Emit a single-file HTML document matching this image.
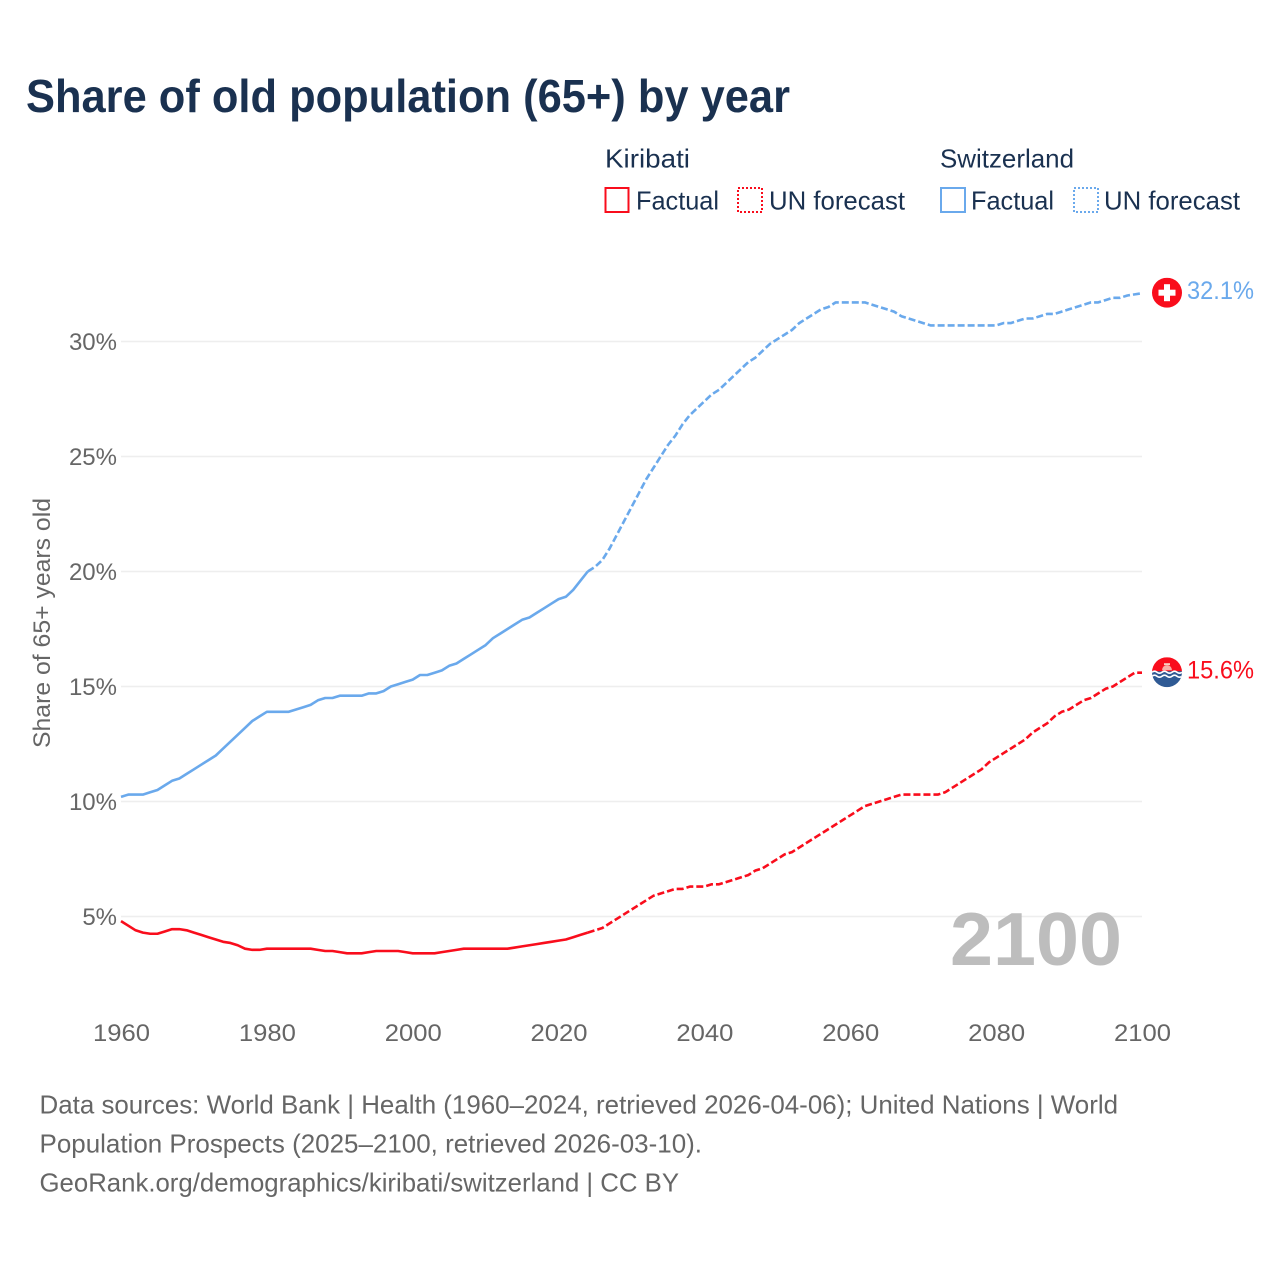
<!DOCTYPE html>
<html lang="en">
<head>
<meta charset="utf-8">
<title>Share of old population (65+) by year</title>
<style>
html,body{margin:0;padding:0;background:#fff;}
svg{display:block;font-family:"Liberation Sans",sans-serif;}
</style>
</head>
<body>
<svg id="chart" xmlns="http://www.w3.org/2000/svg" width="1280" height="1280" viewBox="0 0 1280 1280">
  <defs>
    <clipPath id="flag-ch-clip"><circle cx="0" cy="0" r="15"/></clipPath>
    <clipPath id="flag-ki-clip"><circle cx="0" cy="0" r="15"/></clipPath>
  </defs>
  <rect width="1280" height="1280" fill="#fff"/>
  <text x="26" y="112" font-size="46" font-weight="700" fill="#1a3150" textLength="764" lengthAdjust="spacingAndGlyphs">Share of old population (65+) by year</text>

  <g font-size="26" fill="#1a3150">
    <text x="605" y="167.5" textLength="85" lengthAdjust="spacingAndGlyphs">Kiribati</text>
    <text x="940" y="167.5" textLength="134" lengthAdjust="spacingAndGlyphs">Switzerland</text>
    <rect x="605.5" y="188" width="23" height="24" fill="none" stroke="#f90d1c" stroke-width="2"/>
    <text x="636" y="209.5" textLength="83" lengthAdjust="spacingAndGlyphs">Factual</text>
    <rect x="738" y="188" width="24" height="24" fill="none" stroke="#f90d1c" stroke-width="2" stroke-dasharray="2 2"/>
    <text x="769" y="209.5" textLength="136" lengthAdjust="spacingAndGlyphs">UN forecast</text>
    <rect x="941" y="188" width="24" height="24" fill="none" stroke="#6aa9ec" stroke-width="2"/>
    <text x="971" y="209.5" textLength="83" lengthAdjust="spacingAndGlyphs">Factual</text>
    <rect x="1074" y="188" width="24" height="24" fill="none" stroke="#6aa9ec" stroke-width="2" stroke-dasharray="2 2"/>
    <text x="1104" y="209.5" textLength="136" lengthAdjust="spacingAndGlyphs">UN forecast</text>
  </g>

  <g id="grid"></g>
  <g id="y-ticks" font-size="24" fill="#666"></g>
  <g id="x-ticks" font-size="24" fill="#666"></g>
  <text transform="translate(50,748) rotate(-90)" font-size="24" fill="#666" textLength="250" lengthAdjust="spacingAndGlyphs">Share of 65+ years old</text>
  <text x="950" y="965" font-size="75" font-weight="700" fill="#bdbdbd" textLength="172" lengthAdjust="spacingAndGlyphs">2100</text>
  <g id="series"></g>

  <g id="flag-ch">
    <g clip-path="url(#flag-ch-clip)">
      <rect x="-15" y="-15" width="30" height="30" fill="#f90d1c"/>
      <rect x="-8.5" y="-3" width="17" height="6" fill="#fff"/>
      <rect x="-3" y="-8.5" width="6" height="17" fill="#fff"/>
    </g>
  </g>
  <g id="flag-ki">
    <g clip-path="url(#flag-ki-clip)">
      <rect x="-15" y="-15" width="30" height="15" fill="#f90d1c"/>
      <rect x="-15" y="-1" width="30" height="16" fill="#2f5a94"/>
      <path d="M-5 -2 A5 5 0 0 1 5 -2 Z" fill="#f9b0a8"/>
      <rect x="-3" y="-9" width="6" height="2" fill="#f9d0c0"/>
      <path d="M-15 0 q2.5 -2 5 0 t5 0 t5 0 t5 0 t5 0 t5 0" fill="none" stroke="#fff" stroke-width="1.6"/>
      <path d="M-15 4 q2.5 -2 5 0 t5 0 t5 0 t5 0 t5 0 t5 0" fill="none" stroke="#fff" stroke-width="1.6"/>
    </g>
  </g>
  <text id="label-ch" x="1187" y="299" font-size="25" fill="#6aa9ec" textLength="67" lengthAdjust="spacingAndGlyphs"></text>
  <text id="label-ki" x="1187" y="679" font-size="25" fill="#f90d1c" textLength="67" lengthAdjust="spacingAndGlyphs"></text>

  <g font-size="26" fill="#666">
    <text x="39.5" y="1113.5" textLength="1078.5" lengthAdjust="spacingAndGlyphs">Data sources: World Bank | Health (1960–2024, retrieved 2026-04-06); United Nations | World</text>
    <text x="39.5" y="1152.5" textLength="662.5" lengthAdjust="spacingAndGlyphs">Population Prospects (2025–2100, retrieved 2026-03-10).</text>
    <text x="39.5" y="1191.5" textLength="639.5" lengthAdjust="spacingAndGlyphs">GeoRank.org/demographics/kiribati/switzerland | CC BY</text>
  </g>
</svg>
<script>
const startYear = 1960;
const endYear = 2100;
const lastFactualYear = 2024;
const xTickYears = [1960, 1980, 2000, 2020, 2040, 2060, 2080, 2100];
const yTickValues = [5, 10, 15, 20, 25, 30];
const switzerlandValues = [
  10.2,10.3,10.3,10.3,10.4,10.5,10.7,10.9,11.0,11.2,
  11.4,11.6,11.8,12.0,12.3,12.6,12.9,13.2,13.5,13.7,
  13.9,13.9,13.9,13.9,14.0,14.1,14.2,14.4,14.5,14.5,
  14.6,14.6,14.6,14.6,14.7,14.7,14.8,15.0,15.1,15.2,
  15.3,15.5,15.5,15.6,15.7,15.9,16.0,16.2,16.4,16.6,
  16.8,17.1,17.3,17.5,17.7,17.9,18.0,18.2,18.4,18.6,
  18.8,18.9,19.2,19.6,20.0,20.2,20.5,21.0,21.6,22.2,
  22.8,23.4,24.0,24.5,25.0,25.5,25.9,26.4,26.8,27.1,
  27.4,27.7,27.9,28.2,28.5,28.8,29.1,29.3,29.6,29.9,
  30.1,30.3,30.5,30.8,31.0,31.2,31.4,31.5,31.7,31.7,
  31.7,31.7,31.7,31.6,31.5,31.4,31.3,31.1,31.0,30.9,
  30.8,30.7,30.7,30.7,30.7,30.7,30.7,30.7,30.7,30.7,
  30.7,30.8,30.8,30.9,31.0,31.0,31.1,31.2,31.2,31.3,
  31.4,31.5,31.6,31.7,31.7,31.8,31.9,31.9,32.0,32.05,
  32.1
];
const kiribatiValues = [
  4.8,4.6,4.4,4.3,4.25,4.25,4.35,4.45,4.45,4.4,
  4.3,4.2,4.1,4.0,3.9,3.85,3.75,3.6,3.55,3.55,
  3.6,3.6,3.6,3.6,3.6,3.6,3.6,3.55,3.5,3.5,
  3.45,3.4,3.4,3.4,3.45,3.5,3.5,3.5,3.5,3.45,
  3.4,3.4,3.4,3.4,3.45,3.5,3.55,3.6,3.6,3.6,
  3.6,3.6,3.6,3.6,3.65,3.7,3.75,3.8,3.85,3.9,
  3.95,4.0,4.1,4.2,4.3,4.4,4.5,4.7,4.9,5.1,
  5.3,5.5,5.7,5.9,6.0,6.1,6.2,6.2,6.3,6.3,
  6.3,6.4,6.4,6.5,6.6,6.7,6.8,7.0,7.1,7.3,
  7.5,7.7,7.8,8.0,8.2,8.4,8.6,8.8,9.0,9.2,
  9.4,9.6,9.8,9.9,10.0,10.1,10.2,10.3,10.3,10.3,
  10.3,10.3,10.3,10.4,10.6,10.8,11.0,11.2,11.4,11.7,
  11.9,12.1,12.3,12.5,12.7,13.0,13.2,13.4,13.7,13.9,
  14.0,14.2,14.4,14.5,14.7,14.9,15.0,15.2,15.4,15.6,
  15.6
];

const SVG_NS = 'http://www.w3.org/2000/svg';
const plotLeft = 121, plotRight = 1142;
function xScale(year) { return plotLeft + (year - startYear) * (plotRight - plotLeft) / (endYear - startYear); }
function yScale(value) { return 916.5 - (value - 5) * 23; }
function pathFrom(values, fromYear, toYear) {
  let d = '';
  for (let year = fromYear; year <= toYear; year++) {
    d += (d ? 'L' : 'M') + xScale(year).toFixed(2) + ' ' + yScale(values[year - startYear]).toFixed(2);
  }
  return d;
}

const grid = document.getElementById('grid');
const yTicks = document.getElementById('y-ticks');
const xTicks = document.getElementById('x-ticks');
const series = document.getElementById('series');

yTickValues.forEach(function (v) {
  const line = document.createElementNS(SVG_NS, 'line');
  
  
  line.setAttribute('x1', plotLeft);
  line.setAttribute('x2', plotRight);
  line.setAttribute('y1', yScale(v));
  line.setAttribute('y2', yScale(v));
  line.setAttribute('stroke', '#eeeeee');
  line.setAttribute('stroke-width', '1.5');
  grid.appendChild(line);

  const label = document.createElementNS(SVG_NS, 'text');
  
  
  label.setAttribute('x', 117);
  label.setAttribute('y', yScale(v) + 8.5);
  label.setAttribute('text-anchor', 'end');
  label.textContent = v + '%';
  yTicks.appendChild(label);
});

xTickYears.forEach(function (year) {
  const label = document.createElementNS(SVG_NS, 'text');
  
  
  label.setAttribute('x', xScale(year) + 0.5);
  label.setAttribute('y', 1041);
  label.setAttribute('text-anchor', 'middle');
  label.setAttribute('textLength', '57');
  label.setAttribute('lengthAdjust', 'spacingAndGlyphs');
  label.textContent = year;
  xTicks.appendChild(label);
});

function addLine(name, values, fromYear, toYear, color, dash) {
  const path = document.createElementNS(SVG_NS, 'path');
  
  
  path.setAttribute('d', pathFrom(values, fromYear, toYear));
  path.setAttribute('fill', 'none');
  path.setAttribute('stroke', color);
  path.setAttribute('stroke-width', '2.6');
  path.setAttribute('stroke-linejoin', 'round');
  if (dash) path.setAttribute('stroke-dasharray', dash);
  series.appendChild(path);
}
addLine('switzerland-factual-line', switzerlandValues, startYear, lastFactualYear, '#6aa9ec', null);
addLine('switzerland-forecast-line', switzerlandValues, lastFactualYear, endYear, '#6aa9ec', '7 3');
addLine('kiribati-factual-line', kiribatiValues, startYear, lastFactualYear, '#f90d1c', null);
addLine('kiribati-forecast-line', kiribatiValues, lastFactualYear, endYear, '#f90d1c', '7 3');

const lastCh = switzerlandValues[switzerlandValues.length - 1];
const lastKi = kiribatiValues[kiribatiValues.length - 1];
document.getElementById('flag-ch').setAttribute('transform', 'translate(1167,' + (yScale(lastCh) - 0.5) + ')');
document.getElementById('flag-ki').setAttribute('transform', 'translate(1167,' + (yScale(lastKi) - 0.5) + ')');
const labelCh = document.getElementById('label-ch');
labelCh.textContent = lastCh.toFixed(1) + '%';
labelCh.setAttribute('y', yScale(lastCh) + 6);
const labelKi = document.getElementById('label-ki');
labelKi.textContent = lastKi.toFixed(1) + '%';
labelKi.setAttribute('y', yScale(lastKi) + 6);
</script>
</body>
</html>
